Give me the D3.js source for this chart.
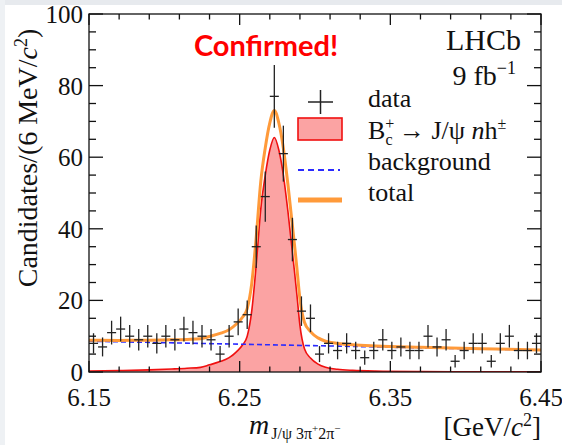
<!DOCTYPE html>
<html>
<head>
<meta charset="utf-8">
<script src="https://cdn.jsdelivr.net/npm/d3@7"></script>
<style>
  html, body { margin: 0; padding: 0; background: #fff; }
  svg { display: block; }
  text { fill: #111; }
</style>
</head>
<body>
<svg id="chart" width="562" height="445"></svg>
<script>
// Histogram: 6 MeV bins from 6.15 to 6.45 GeV
const binCenters = [
  6.153, 6.159, 6.165, 6.171, 6.177, 6.183, 6.189, 6.195, 6.201, 6.207,
  6.213, 6.219, 6.225, 6.231, 6.237, 6.243, 6.249, 6.255, 6.261, 6.267,
  6.273, 6.279, 6.285, 6.291, 6.297, 6.303, 6.309, 6.315, 6.321, 6.327,
  6.333, 6.339, 6.345, 6.351, 6.357, 6.363, 6.369, 6.375, 6.381, 6.387,
  6.393, 6.399, 6.405, 6.411, 6.417, 6.423, 6.429, 6.435, 6.441, 6.447
];
const binWidth = 0.006;
const counts = [
  8, 7, 11, 12, 10, 9, 10, 8, 10, 9,
  12, 11, 10, 9, 5, 10, 14, 16, 35, 49,
  77, 61, 37, 17, 15, 5, 8, 6, 8, 6,
  4, 6, 9, 6, 7, 6, 6, 10, 7, 9,
  3, 6, 8, 8, 3, 8, 10, 6, 6, 8
];

// Fitted signal shape, sampled along the mass axis
const sigMass = [
  6.150, 6.170, 6.190, 6.205, 6.215, 6.224, 6.230, 6.237, 6.243, 6.248,
  6.252, 6.255, 6.258, 6.261, 6.264, 6.267, 6.270, 6.273, 6.276, 6.279,
  6.282, 6.2865, 6.288, 6.290, 6.293, 6.297, 6.302, 6.307, 6.315, 6.325,
  6.340, 6.370, 6.410, 6.450
];
const sigVals = [
  0.3, 0.4, 0.6, 0.85, 1.05, 1.3, 2.0, 2.9, 4.0, 5.7,
  7.6, 10, 17, 30, 45.5, 55, 62, 65.5, 62, 55,
  45, 27.6, 21.5, 13, 6.5, 3.9, 2.2, 1.3, 0.75, 0.45,
  0.25, 0.12, 0.07, 0.05
];
// Linear background endpoints
const bgMass = [6.15, 6.45];
const bgVals = [8.6, 6.1];

const xTicksMajor = [6.15, 6.25, 6.35, 6.45];
const yTicksMajor = [0, 20, 40, 60, 80, 100];

const SERIF = "'Liberation Serif', 'DejaVu Serif', serif";
const svg = d3.select("#chart").style("font-family", SERIF);
const W = 562, H = 445;
const frame = { left: 89, right: 541, top: 14, bottom: 372 };

// slide backdrop edges
svg.append("rect").attr("x", 0).attr("y", 0).attr("width", W).attr("height", 5).attr("fill", "#e7eaee");
svg.append("rect").attr("x", 0).attr("y", 0).attr("width", 5).attr("height", H).attr("fill", "#eef1f4");

const x = d3.scaleLinear().domain([6.15, 6.45]).range([frame.left, frame.right]);
const y = d3.scaleLinear().domain([0, 100]).range([frame.bottom, frame.top]);
const bg = d3.scaleLinear().domain(bgMass).range(bgVals);

svg.append("clipPath").attr("id", "clipFrame")
  .append("rect").attr("x", frame.left).attr("y", frame.top)
  .attr("width", frame.right - frame.left).attr("height", frame.bottom - frame.top);
const plot = svg.append("g").attr("clip-path", "url(#clipFrame)");

const sigPts = sigMass.map((m, i) => [m, sigVals[i]]);
const totPts = sigMass.map((m, i) => [m, sigVals[i] + bg(m)]);

// signal component
plot.append("path")
  .datum(sigPts)
  .attr("d", d3.area().x(d => x(d[0])).y0(y(0)).y1(d => y(d[1])).curve(d3.curveMonotoneX))
  .attr("fill", "#fba3a3");
plot.append("path")
  .datum(sigPts)
  .attr("d", d3.line().x(d => x(d[0])).y(d => y(d[1])).curve(d3.curveMonotoneX))
  .attr("fill", "none").attr("stroke", "#f01010").attr("stroke-width", 1.6);

// background component
plot.append("path")
  .datum(bgMass.map((m, i) => [m, bgVals[i]]))
  .attr("d", d3.line().x(d => x(d[0])).y(d => y(d[1])))
  .attr("fill", "none").attr("stroke", "#2b2bff").attr("stroke-width", 1.6)
  .attr("stroke-dasharray", "5,3");

// total fit
plot.append("path")
  .datum(totPts)
  .attr("d", d3.line().x(d => x(d[0])).y(d => y(d[1])).curve(d3.curveMonotoneX))
  .attr("fill", "none").attr("stroke", "#ff9a3a").attr("stroke-width", 3);

// data points with Poisson error bars
const pts = plot.append("g").attr("stroke", "#222").attr("stroke-width", 1.3);
binCenters.forEach((m, i) => {
  const n = counts[i], e = Math.sqrt(n);
  pts.append("line").attr("x1", x(m)).attr("x2", x(m)).attr("y1", y(n - e)).attr("y2", y(n + e));
  pts.append("line").attr("x1", x(m - binWidth / 2)).attr("x2", x(m + binWidth / 2)).attr("y1", y(n)).attr("y2", y(n));
});

// frame and ticks
const axes = svg.append("g").attr("stroke", "#111").attr("stroke-width", 1.3);
axes.append("rect").attr("x", frame.left).attr("y", frame.top)
  .attr("width", frame.right - frame.left).attr("height", frame.bottom - frame.top)
  .attr("fill", "none");

const xMinor = d3.range(0, 16).map(k => 6.15 + 0.02 * k).filter(v => v <= 6.4501);
xMinor.forEach(v => {
  const isMajor = xTicksMajor.some(t => Math.abs(t - v) < 1e-6);
  const len = isMajor ? 11 : 5.5;
  axes.append("line").attr("x1", x(v)).attr("x2", x(v)).attr("y1", frame.bottom).attr("y2", frame.bottom - len);
  axes.append("line").attr("x1", x(v)).attr("x2", x(v)).attr("y1", frame.top).attr("y2", frame.top + len);
});
d3.range(0, 101, 5).forEach(v => {
  const len = v % 20 === 0 ? 14 : 7;
  axes.append("line").attr("x1", frame.left).attr("x2", frame.left + len).attr("y1", y(v)).attr("y2", y(v));
  axes.append("line").attr("x1", frame.right).attr("x2", frame.right - len).attr("y1", y(v)).attr("y2", y(v));
});

// tick labels
xTicksMajor.forEach(v => {
  svg.append("text").attr("x", x(v)).attr("y", 406).attr("text-anchor", "middle")
    .attr("font-size", 25).text(v.toFixed(2));
});
yTicksMajor.forEach(v => {
  svg.append("text").attr("x", 83).attr("y", y(v) + 9).attr("text-anchor", "end")
    .attr("font-size", 25).text(v);
});

// axis titles
const yt = svg.append("text").attr("transform", "translate(37,158) rotate(-90)")
  .attr("text-anchor", "middle").attr("font-size", 28);
yt.append("tspan").text("Candidates/(6 MeV/");
yt.append("tspan").attr("font-style", "italic").text("c");
yt.append("tspan").attr("font-size", 18).attr("dy", -10).text("2");
yt.append("tspan").attr("dy", 10).text(")");

const xt = svg.append("text").attr("x", 249).attr("y", 434).attr("font-size", 28);
xt.append("tspan").attr("font-style", "italic").text("m");
xt.append("tspan").attr("font-size", 16).attr("dy", 5).attr("dx", 2).text("J/ψ 3π");
xt.append("tspan").attr("font-size", 11).attr("dy", -7).text("+");
xt.append("tspan").attr("font-size", 16).attr("dy", 7).text("2π");
xt.append("tspan").attr("font-size", 11).attr("dy", -7).text("−");

const xu = svg.append("text").attr("x", 541).attr("y", 436).attr("text-anchor", "end").attr("font-size", 27);
xu.append("tspan").text("[GeV/");
xu.append("tspan").attr("font-style", "italic").text("c");
xu.append("tspan").attr("font-size", 18).attr("dy", -10).text("2");
xu.append("tspan").attr("dy", 10).text("]");

// experiment label
svg.append("text").attr("x", 521).attr("y", 50).attr("text-anchor", "end").attr("font-size", 30).text("LHCb");
const lumi = svg.append("text").attr("x", 516).attr("y", 85).attr("text-anchor", "end").attr("font-size", 28);
lumi.append("tspan").text("9 fb");
lumi.append("tspan").attr("font-size", 18).attr("dy", -11).text("−1");

svg.append("text").attr("x", 266).attr("y", 56).attr("text-anchor", "middle")
  .style("font-family", "Lato, 'Liberation Sans', sans-serif").style("font-weight", "bold")
  .attr("font-size", 29).style("fill", "#ff0000").text("Confirmed!");

// legend
const lg = svg.append("g");
const lgText = 368;
const lgSize = 26;
lg.append("line").attr("x1", 308).attr("x2", 333).attr("y1", 102).attr("y2", 102).attr("stroke", "#222").attr("stroke-width", 1.5);
lg.append("line").attr("x1", 320.5).attr("x2", 320.5).attr("y1", 90).attr("y2", 114).attr("stroke", "#222").attr("stroke-width", 1.5);
lg.append("text").attr("x", lgText).attr("y", 107).attr("font-size", lgSize).text("data");

lg.append("rect").attr("x", 298).attr("y", 118).attr("width", 44).attr("height", 22)
  .attr("fill", "#fba3a3").attr("stroke", "#f01010").attr("stroke-width", 1.6);
const sl = lg.append("text").attr("x", lgText).attr("y", 139).attr("font-size", lgSize);
sl.append("tspan").text("B");
sl.append("tspan").attr("font-size", 16).attr("dy", -10).text("+");
sl.append("tspan").attr("font-size", 16).attr("dx", -9).attr("dy", 16).text("c");
sl.append("tspan").attr("dy", -6).text(" → J/ψ ");
sl.append("tspan").attr("font-style", "italic").text("n");
sl.append("tspan").text("h");
sl.append("tspan").attr("font-size", 16).attr("dy", -10).text("±");

lg.append("line").attr("x1", 298).attr("x2", 340).attr("y1", 170).attr("y2", 170)
  .attr("stroke", "#2b2bff").attr("stroke-width", 1.8).attr("stroke-dasharray", "6,4");
lg.append("text").attr("x", lgText).attr("y", 170).attr("font-size", lgSize).text("background");

lg.append("line").attr("x1", 298).attr("x2", 342).attr("y1", 200).attr("y2", 200)
  .attr("stroke", "#ff9a3a").attr("stroke-width", 5);
lg.append("text").attr("x", lgText).attr("y", 201).attr("font-size", lgSize).text("total");
</script>
</body>
</html>
